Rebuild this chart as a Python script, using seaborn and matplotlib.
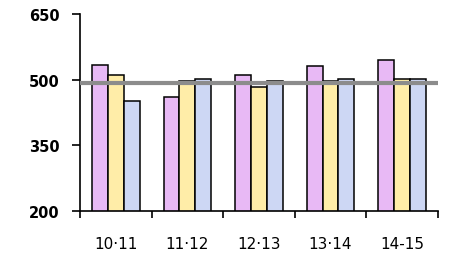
import pandas as pd
import numpy as np
import seaborn as sns
import matplotlib.pyplot as plt
from matplotlib.ticker import FixedLocator

# values
years = ["10·11", "11·12", "12·13", "13·14", "14-15"]
series = ["A", "B", "C"]
vals_a = [533, 460, 511, 530, 545]
vals_b = [511, 497, 482, 497, 501]
vals_c = [450, 502, 497, 502, 501]
ref_line = 493
yticks = [200, 350, 500, 650]

colors = ["#E8B9F5", "#FFEDA8", "#CDD7F4"]

df = pd.DataFrame({
    "year": years * 3,
    "series": [s for s in series for _ in years],
    "value": vals_a + vals_b + vals_c,
})

sns.set_style("white")
plt.rcParams["font.family"] = ["DejaVu Sans"]
plt.rcParams["text.color"] = "black"
plt.rcParams["xtick.color"] = "black"
plt.rcParams["ytick.color"] = "black"

fig = plt.figure(figsize=(4.5, 2.55), dpi=100)
ax = fig.add_axes([0.178, 0.170, 0.795, 0.771])

sns.barplot(data=df, x="year", y="value", hue="series", order=years,
            hue_order=series, palette=colors, width=0.667,
            edgecolor="black", linewidth=1.1, saturation=1, ax=ax, legend=False)

ax.axhline(ref_line, color="#8C8C8C", lw=3, zorder=5)

ax.set_ylim(200, 650)
ax.set_xlim(-0.5, len(years) - 0.5)
ax.set_yticks(yticks)
ax.set_yticklabels([str(t) for t in yticks], fontweight="bold", fontsize=10.5)
ax.tick_params(axis="y", length=6, width=1.2, color="black", labelcolor="black",
               pad=9, left=True)

ax.xaxis.set_minor_locator(FixedLocator(np.arange(-0.5, len(years), 1)))
ax.tick_params(axis="x", which="major", length=0, labelsize=11, pad=18,
               labelcolor="black")
ax.tick_params(axis="x", which="minor", length=5, width=1.2, color="black", bottom=True)

ax.set_xlabel("")
ax.set_ylabel("")
for side in ["top", "right"]:
    ax.spines[side].set_visible(False)
for side in ["left", "bottom"]:
    ax.spines[side].set_color("black")
    ax.spines[side].set_linewidth(1.2)

fig.savefig("out.png", dpi=100)
